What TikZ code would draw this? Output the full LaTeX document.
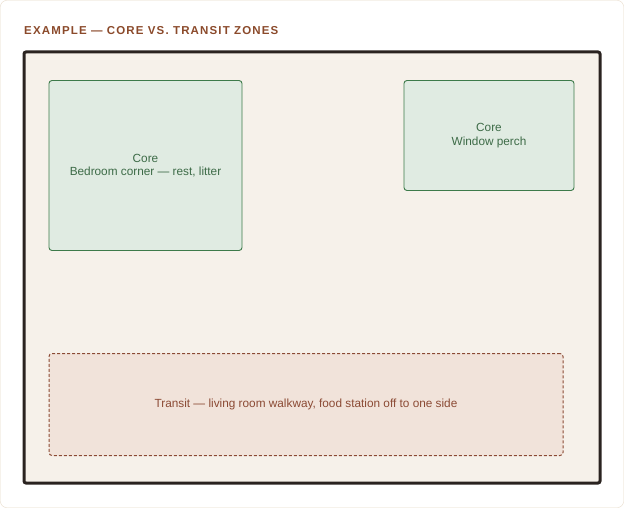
\documentclass[tikz,border=0pt]{standalone}
\usepackage{fontspec}
\setmainfont{Liberation Sans}
\newfontfamily\titlefont[LetterSpace=10]{Liberation Sans}
\usetikzlibrary{positioning}

\definecolor{cardline}{HTML}{E6DAC8}
\definecolor{roomfill}{HTML}{F6F1EA}
\definecolor{roomline}{HTML}{2A2320}
\definecolor{corefill}{HTML}{E0EBE2}
\definecolor{coreline}{HTML}{3D7A4A}
\definecolor{coretext}{HTML}{3D6B47}
\definecolor{transitfill}{HTML}{F1E3DA}
\definecolor{transitline}{HTML}{8B4A34}
\definecolor{titletext}{HTML}{8B4A2B}

\begin{document}
\begin{tikzpicture}[x=1pt, y=-1pt,
                    every node/.style={font=\fontsize{11.8}{13.5}\selectfont, align=center, inner sep=0pt},
                    room/.style={draw=roomline, fill=roomfill, line width=3pt, rounded corners=2pt},
                    corezone/.style={draw=coreline, fill=corefill, text=coretext, line width=0.9pt, rounded corners=3pt},
                    transitzone/.style={draw=transitline, fill=transitfill, text=transitline, line width=1pt,
                                        dash pattern=on 3pt off 2pt, rounded corners=3pt}]

\useasboundingbox (0,0) rectangle (624,508);
\draw[cardline, fill=white, rounded corners=6pt] (0.5,0.5) rectangle (623.5,507.5);

\node[anchor=base west, text=titletext, font=\titlefont\bfseries\fontsize{11.5}{13}\selectfont] (title) at (24,35) {EXAMPLE — CORE VS. TRANSIT ZONES};

\node[room, minimum width=576pt, minimum height=431pt] (room) at (312,267.5) {};

\node[corezone, minimum width=193pt, minimum height=170pt] (bedroom) at (145.5,165.5) {Core\\Bedroom corner — rest, litter};
\node[corezone, minimum width=170pt, minimum height=110pt] (window) at (489,135.5) {Core\\Window perch};

\node[transitzone, minimum width=514pt, minimum height=102pt] (walkway) at (306,404.5) {Transit — living room walkway, food station off to one side};
\end{tikzpicture}
\end{document}
